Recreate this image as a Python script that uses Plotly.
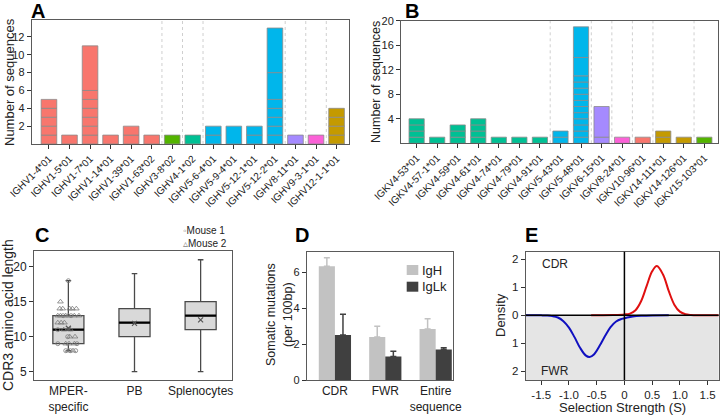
import plotly.graph_objects as go

W, H = 720, 415
FONT = "Liberation Sans, Arial, sans-serif"

# ---------------- data ----------------
A_names = ["IGHV1-4*01", "IGHV1-5*01", "IGHV1-7*01", "IGHV1-14*01", "IGHV1-39*01",
           "IGHV1-63*02", "IGHV3-8*02", "IGHV4-1*02", "IGHV5-6-4*01", "IGHV5-9-4*01",
           "IGHV5-12-1*01", "IGHV5-12-2*01", "IGHV8-11*01", "IGHV9-3-1*01", "IGHV12-1-1*01"]
A_segments = [[1, 1, 1, 1, 1], [1], [1, 1, 1, 1, 1, 1, 5], [1], [1, 1], [1], [1], [1],
              [1, 1], [2], [1, 1], [1, 1, 1, 1, 1, 3, 5], [1], [1], [1, 1, 1, 1]]
A_colors = ["#F8766D"] * 6 + ["#53B400", "#00C094", "#00B6EB", "#00B6EB", "#00B6EB",
                              "#00B6EB", "#A58AFF", "#FB61D7", "#C49A00"]

B_names = ["IGKV4-53*01", "IGKV4-57-1*01", "IGKV4-59*01", "IGKV4-61*01", "IGKV4-74*01",
           "IGKV4-79*01", "IGKV4-91*01", "IGKV5-43*01", "IGKV5-48*01", "IGKV6-15*01",
           "IGKV8-24*01", "IGKV10-96*01", "IGKV14-111*01", "IGKV14-126*01", "IGKV15-103*01"]
B_segments = [[1, 1, 1, 1], [1], [1, 1, 1], [1, 1, 1, 1], [1], [1], [1], [1, 1],
              [1] * 11 + [3, 5], [1, 5], [1], [1], [1, 1], [1], [1]]
B_colors = ["#00C094"] * 7 + ["#00B6EB", "#00B6EB", "#A58AFF", "#FB61D7", "#F8766D",
                              "#C49A00", "#C49A00", "#53B400"]

C_groups = ["MPER-<br>specific", "PB", "Splenocytes"]
C_min = [8, 5, 5]
C_q1 = [9, 10, 11]
C_median = [11, 12, 13]
C_q3 = [13, 14, 15]
C_max = [18, 19, 21]
C_mean = [11.2, 11.9, 12.4]
mouse1_len = [18, 13, 13, 11, 9, 9, 8, 8, 8, 10]
mouse1_off = [0.0, -0.08, 0.04, -0.16, -0.16, 0.13, -0.04, 0.03, 0.11, -0.01]
mouse2_len = [15, 14, 14, 14, 14, 14, 13, 13, 13, 13, 13, 13, 12, 12, 12, 11, 11,
              10, 10, 9, 9, 9, 8, 8]
mouse2_off = [-0.12, -0.13, -0.085, 0.02, 0.06, 0.12, -0.16, -0.12, -0.04, 0.0, 0.09,
              0.16, -0.16, -0.11, -0.06, -0.07, 0.03, 0.02, 0.1, -0.04, 0.01, 0.09,
              0.0, 0.07]

D_regions = ["CDR", "FWR", "Entire<br>sequence"]
IgH_mut = [6.35, 2.4, 2.85]
IgH_err = [0.48, 0.6, 0.57]
IgLk_mut = [2.52, 1.32, 1.7]
IgLk_err = [1.16, 0.28, 0.1]

E_cdr_x = [-0.6, -0.4, -0.2, 0.0, 0.1, 0.2, 0.3, 0.4, 0.5, 0.585, 0.7, 0.8, 0.9, 1.0,
           1.1, 1.2, 1.35, 1.5, 1.7]
E_cdr_y = [0.0, 0.002, 0.01, 0.03, 0.06, 0.18, 0.5, 1.04, 1.57, 1.76, 1.44, 0.86, 0.38,
           0.13, 0.035, 0.008, 0.0, 0.0, 0.0]
E_fwr_x = [-1.8, -1.6, -1.5, -1.4, -1.3, -1.2, -1.1, -1.0, -0.9, -0.8, -0.7, -0.63,
           -0.55, -0.45, -0.35, -0.25, -0.15, -0.05, 0.05, 0.15, 0.3, 0.5, 0.8]
E_fwr_y = [0.0, 0.0, 0.003, 0.01, 0.03, 0.08, 0.21, 0.44, 0.78, 1.16, 1.43, 1.49,
           1.4, 1.1, 0.74, 0.42, 0.22, 0.13, 0.08, 0.045, 0.02, 0.005, 0.0]


def px(x, y):
    return x / W, 1 - y / H


fig = go.Figure()


# ---------------- A & B: stacked segment bars ----------------
def seg_bars(segments, colors, xa, ya, width):
    nmax = max(len(s) for s in segments)
    for k in range(nmax):
        idx = [i for i, s in enumerate(segments) if len(s) > k]
        fig.add_trace(go.Bar(
            x=idx, y=[segments[i][k] for i in idx],
            base=[sum(segments[i][:k]) for i in idx],
            width=width,
            marker=dict(color=[colors[i] for i in idx], line=dict(color="#8a8a8a", width=0.8)),
            xaxis=xa, yaxis=ya, showlegend=False, hoverinfo="skip"))


seg_bars(A_segments, A_colors, "x", "y", 0.76)
seg_bars(B_segments, B_colors, "x2", "y2", 0.74)

shapes = []


def separators(names, xref, yref):
    fams = [n.split("-")[0] for n in names]
    for i in range(1, len(fams)):
        if fams[i] != fams[i - 1]:
            shapes.append(dict(type="line", xref=xref, yref=yref + " domain",
                               x0=i - 0.5, x1=i - 0.5, y0=0, y1=1,
                               line=dict(color="#cfcfcf", width=1, dash="dot"), layer="below"))


separators(A_names, "x", "y")
separators(B_names, "x2", "y2")

# ---------------- C: box plots ----------------
cx = list(range(len(C_groups)))
fig.add_trace(go.Box(
    x=cx, q1=C_q1, median=C_median, q3=C_q3, lowerfence=C_min, upperfence=C_max,
    width=0.47, whiskerwidth=0.18, fillcolor="#d9d9d9",
    line=dict(color="#4a4a4a", width=1.3), boxpoints=False,
    xaxis="x3", yaxis="y3", showlegend=False, hoverinfo="skip"))
mx, my = [], []
for i, m in enumerate(C_median):
    mx += [i - 0.235, i + 0.235, None]
    my += [m, m, None]
fig.add_trace(go.Scatter(x=mx, y=my, mode="lines", line=dict(color="black", width=2.2),
                         xaxis="x3", yaxis="y3", showlegend=False, hoverinfo="skip"))
fig.add_trace(go.Scatter(x=[0 + o for o in mouse1_off], y=mouse1_len, mode="markers",
                         marker=dict(symbol="circle-open", size=4, color="#7a7a7a",
                                     line=dict(width=0.8)),
                         xaxis="x3", yaxis="y3", showlegend=False, hoverinfo="skip"))
fig.add_trace(go.Scatter(x=[0 + o for o in mouse2_off], y=mouse2_len, mode="markers",
                         marker=dict(symbol="triangle-up-open", size=5, color="#7a7a7a",
                                     line=dict(width=0.8)),
                         xaxis="x3", yaxis="y3", showlegend=False, hoverinfo="skip"))
fig.add_trace(go.Scatter(x=cx, y=C_mean, mode="markers",
                         marker=dict(symbol="x-thin-open", size=5, color="#555",
                                     line=dict(width=1.2)),
                         xaxis="x3", yaxis="y3", showlegend=False, hoverinfo="skip"))

# ---------------- D: grouped bars with error bars ----------------
dx = list(range(len(D_regions)))
fig.add_trace(go.Bar(x=dx, y=IgH_mut, width=0.32, offset=-0.32,
                     marker=dict(color="#c2c2c2", line=dict(width=0)),
                     error_y=dict(type="data", array=IgH_err, arrayminus=[0] * 3,
                                  symmetric=False, color="#c2c2c2", thickness=1.5, width=3),
                     xaxis="x4", yaxis="y4", showlegend=False, hoverinfo="skip"))
fig.add_trace(go.Bar(x=dx, y=IgLk_mut, width=0.32, offset=0,
                     marker=dict(color="#404040", line=dict(width=0)),
                     error_y=dict(type="data", array=IgLk_err, arrayminus=[0] * 3,
                                  symmetric=False, color="#404040", thickness=1.5, width=3),
                     xaxis="x4", yaxis="y4", showlegend=False, hoverinfo="skip"))

# ---------------- E: density curves ----------------
fig.add_trace(go.Scatter(x=E_cdr_x, y=E_cdr_y, mode="lines", line=dict(color="#e01010", width=2, shape="spline"),
                         xaxis="x5", yaxis="y5", showlegend=False, hoverinfo="skip"))
fig.add_trace(go.Scatter(x=E_fwr_x, y=[-v for v in E_fwr_y], mode="lines",
                         line=dict(color="#1010c0", width=2, shape="spline"),
                         xaxis="x5", yaxis="y5", showlegend=False, hoverinfo="skip"))
shapes.append(dict(type="rect", xref="x5 domain", yref="y5", x0=0, x1=1, y0=-2.31, y1=0,
                   fillcolor="#e5e5e5", line=dict(width=0), layer="below"))
shapes.append(dict(type="line", xref="x5 domain", yref="y5", x0=0, x1=1, y0=0, y1=0,
                   line=dict(color="black", width=1.5)))
shapes.append(dict(type="line", xref="x5", yref="y5 domain", x0=0, x1=0, y0=0, y1=1,
                   line=dict(color="black", width=1.5)))

# D legend squares
for (y0, y1, col) in [(265, 275, "#c2c2c2"), (281.7, 291.7, "#404040")]:
    a0 = px(406.7, y1)
    a1 = px(418.3, y0)
    shapes.append(dict(type="rect", xref="paper", yref="paper", x0=a0[0], x1=a1[0],
                       y0=a0[1], y1=a1[1], fillcolor=col, line=dict(width=0)))


# ---------------- axes ----------------
def dom(x0, x1, y0, y1):
    return [x0 / W, x1 / W], [1 - y1 / H, 1 - y0 / H]


def axstyle(size, ticks="outside"):
    return dict(showline=True, mirror=True, linecolor="#5a5a5a", linewidth=1,
                showgrid=False, zeroline=False, ticks=ticks, ticklen=4,
                tickcolor="#333", tickfont=dict(size=size, color="#222"), automargin=False)


xa, ya = dom(31.7, 349.3, 20, 144)
fig.update_layout(
    xaxis=dict(domain=xa, anchor="y", range=[-0.84, 14.62], tickvals=list(range(15)),
               ticktext=A_names, tickangle=-45, **axstyle(10)),
    yaxis=dict(domain=ya, anchor="x", range=[0, 13.9], tickvals=[2, 4, 6, 8, 10, 12], **axstyle(11)),
)
xb, yb = dom(401, 718.3, 20.7, 143.3)
fig.update_layout(
    xaxis2=dict(domain=xb, anchor="y2", range=[-0.76, 14.68], tickvals=list(range(15)),
                ticktext=B_names, tickangle=-45, **axstyle(10)),
    yaxis2=dict(domain=yb, anchor="x2", range=[0, 20], tickvals=[4, 8, 12, 16, 20], **axstyle(11)),
)
xc, yc = dom(34, 231.7, 250.7, 380)
fig.update_layout(
    xaxis3=dict(domain=xc, anchor="y3", range=[-0.52, 2.47], tickvals=cx, ticktext=C_groups,
                **axstyle(12, "")),
    yaxis3=dict(domain=yc, anchor="x3", range=[3.81, 22.29], tickvals=[5, 10, 15, 20], **axstyle(12)),
)
xd, yd = dom(306.7, 453.3, 251.7, 380)
fig.update_layout(
    xaxis4=dict(domain=xd, anchor="y4", range=[-0.56, 2.35], tickvals=dx, ticktext=D_regions,
                **axstyle(12, "")),
    yaxis4=dict(domain=yd, anchor="x4", range=[0, 7.17], tickvals=[0, 2, 4, 6], **axstyle(11)),
)
xe, ye = dom(525.7, 718.7, 251.7, 380)
fig.update_layout(
    xaxis5=dict(domain=xe, anchor="y5", range=[-1.78, 1.7],
                tickvals=[-1.5, -1.0, -0.5, 0, 0.5, 1.0, 1.5],
                ticktext=["-1.5", "-1.0", "-0.5", "0", "0.5", "1.0", "1.5"], **axstyle(11.5)),
    yaxis5=dict(domain=ye, anchor="x5", range=[-2.31, 2.27], tickvals=[-2, -1, 0, 1, 2],
                ticktext=["2", "1", "0", "1", "2"], **axstyle(11.5)),
)

# ---------------- annotations ----------------
ann = []


def text(x, y, s, size=13, angle=0, bold=False, xanchor="center", color="#222"):
    p = px(x, y)
    ann.append(dict(x=p[0], y=p[1], xref="paper", yref="paper", text=f"<b>{s}</b>" if bold else s,
                    showarrow=False, textangle=angle, xanchor=xanchor, yanchor="middle",
                    font=dict(size=size, color=color)))


for s, x, y in [("A", 37.5, 11), ("B", 411.5, 11), ("C", 41.5, 235), ("D", 301.5, 235), ("E", 531, 235)]:
    text(x, y, s, size=20, bold=True, color="black")

text(9, 82, "Number of sequences", 13, -90)
text(376, 82, "Number of sequences", 12.5, -90)
text(8, 315, "CDR3 amino acid length", 14, -90)
text(271, 315, "Somatic mutations", 12.5, -90)
text(288, 315, "(per 100bp)", 12.5, -90)
text(500, 315, "Density", 13, -90)
text(622, 407, "Selection Strength (S)", 13)
text(420, 270, "IgH", 13, xanchor="left")
text(420, 286.7, "IgLk", 13, xanchor="left")
text(181, 237, "<span style='color:#888'>◦</span>Mouse 1<br><span style='color:#888'>▵</span>Mouse 2",
     10, xanchor="left")
ann[-1]["align"] = "left"
ann.append(dict(x=-1.26, y=1.83, xref="x5", yref="y5", text="CDR", showarrow=False,
                font=dict(size=12, color="#222")))
ann.append(dict(x=-1.25, y=-2.0, xref="x5", yref="y5", text="FWR", showarrow=False,
                font=dict(size=12, color="#222")))

fig.update_layout(
    width=W, height=H, margin=dict(l=0, r=0, t=0, b=0, autoexpand=False),
    paper_bgcolor="white", plot_bgcolor="white",
    font=dict(family=FONT, size=12, color="#222"),
    barmode="overlay", showlegend=False,
    shapes=shapes, annotations=ann,
)

fig.write_html("out.html", config={"displayModeBar": False},
               post_script="document.body.style.margin='0px';document.body.style.overflow='hidden';")
